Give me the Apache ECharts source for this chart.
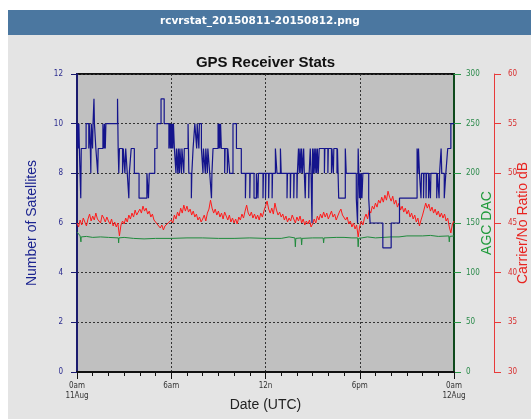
<!DOCTYPE html>
<html>
<head>
<meta charset="utf-8">
<script src="https://cdn.jsdelivr.net/npm/echarts@6/dist/echarts.min.js"></script>
<style>
html,body{margin:0;padding:0;background:#fff;}
#main{width:531px;height:419px;}
</style>
</head>
<body>
<div id="main"></div>
<script>
// x tick labels (hours since 0am 11Aug)
var hourTicks = [0, 6, 12, 18, 24];
var hourLabels = ['0am\n11Aug', '6am', '12n', '6pm', '0am\n12Aug'];

// number of satellites, [hour, count] step changes
var satSteps = [
    [0,10],[0.03,9],[0.06,10],[0.09,9],[0.12,10],[0.15,9],[0.24,7],[0.27,9],[0.58,10],[0.75,9],[0.78,10],
    [0.85,9],[0.88,8],[0.91,10],[0.99,9],[1.02,10],[1.08,11],[1.11,10],[1.2,9],[1.32,8],[1.35,9],[1.65,10],
    [1.72,9],[1.75,10],[1.8,9],[1.84,10],[2.58,11],[2.62,9],[2.66,8],[2.7,9],[2.9,8],[2.95,9],[3.05,8],
    [3.1,9],[3.2,8],[3.3,7],[3.33,8],[3.45,9],[3.65,8],[3.95,7],[4.45,8],[4.55,7],[4.6,8],[4.95,9],
    [5.1,10],[5.35,11],[5.55,10],[5.85,9],[5.9,10],[5.94,9],[5.98,10],[6.02,9],[6.06,10],[6.1,9],
    [6.14,10],[6.2,9],[6.3,8],[6.33,9],[6.42,8],[6.45,9],[6.52,8],[6.55,9],[6.65,8],[6.68,9],[6.8,8],
    [6.83,9],[7.07,10],[7.12,8],[7.28,7],[7.31,8],[7.39,9],[7.5,10],[7.62,9],[7.65,10],[7.76,9],[7.79,10],
    [7.92,9],[8.02,8],[8.05,9],[8.17,8],[8.2,9],[8.3,8],[8.33,9],[8.45,8],[8.56,7],[8.59,8],[8.66,9],
    [8.98,10],[9.02,9],[9.06,10],[9.1,9],[9.14,10],[9.19,9],[9.4,8],[9.43,9],[9.57,8],[9.6,9],[9.72,8],
    [9.93,10],[10.15,9],[10.46,8],[10.72,7],[10.75,8],[11.0,7],[11.03,8],[11.27,7],[11.42,8],[11.52,7],
    [11.55,8],[11.84,7],[11.87,8],[12.0,7],[12.03,8],[12.2,7],[12.23,8],[12.42,7],[12.45,8],[12.63,9],
    [12.73,8],[12.95,9],[13.0,8],[13.37,7],[13.4,8],[13.58,7],[13.61,8],[13.8,7],[13.83,8],[14.0,7],
    [14.03,8],[14.1,9],[14.15,8],[14.2,9],[14.25,8],[14.3,9],[14.35,8],[14.43,9],[14.47,8],[14.53,7],
    [14.56,8],[14.75,7],[14.78,8],[14.85,9],[14.9,8],[14.96,6],[15.0,9],[15.06,8],[15.1,9],[15.16,8],
    [15.2,9],[15.26,8],[15.3,9],[15.36,8],[15.42,9],[15.75,8],[15.78,9],[15.97,8],[16.0,9],[16.2,8],
    [16.23,9],[16.32,8],[16.35,9],[16.55,8],[16.58,9],[16.66,7],[17.08,9],[17.14,8],[17.78,7],[17.86,6],
    [17.9,9],[17.94,8],[17.98,7],[18.02,8],[18.06,7],[18.1,8],[18.14,7],[18.2,8],[18.57,7],[18.66,6],
    [19.47,5],[20.0,6],[20.53,7],[21.65,9],[21.7,8],[21.74,9],[21.8,8],[21.9,7],[21.93,8],[22.06,7],
    [22.09,8],[22.22,7],[22.25,8],[22.38,7],[22.41,8],[22.5,7],[22.53,8],[22.9,7],[22.94,8],[23.05,7],
    [23.08,8],[23.18,9],[23.22,8],[23.38,7],[23.48,8],[23.6,9],[23.8,10],[24,10]
];

// carrier / noise ratio dB, one reading every 0.1 h
var cnrStep = 0.1;
var cnrValues = [
    45.0,44.6,45.3,44.8,45.5,45.1,44.7,45.4,45.9,45.2,
    45.7,45.3,46.0,45.4,45.6,45.0,45.8,45.5,45.1,45.6,
    45.2,44.9,45.4,44.7,45.1,44.6,45.0,43.7,44.8,45.2,
    44.9,45.5,45.1,45.8,45.4,46.0,45.6,46.3,45.8,46.1,
    46.4,46.0,46.7,46.2,46.5,45.9,46.2,45.6,45.9,45.3,
    45.5,44.9,45.1,44.5,44.8,44.3,44.7,44.5,45.0,44.8,
    45.3,45.0,45.8,45.4,46.1,45.7,46.5,46.0,46.8,46.2,
    46.7,46.1,46.4,45.8,46.2,45.6,45.9,45.3,45.6,45.1,
    45.4,45.8,45.2,46.0,46.4,47.3,46.5,46.0,46.4,45.8,
    46.2,45.6,46.0,45.4,46.1,45.7,45.3,45.8,45.1,45.5,
    45.0,45.4,44.9,45.6,45.3,45.9,45.5,46.2,46.8,46.0,
    45.7,46.1,45.5,45.9,45.4,45.8,45.3,46.0,45.6,46.2,
    46.7,47.2,46.4,46.0,46.5,45.9,47.0,46.3,45.8,46.1,
    45.6,45.9,45.3,45.7,45.1,45.5,45.2,45.8,45.4,45.0,
    45.6,45.2,45.7,45.0,45.4,44.8,45.2,44.9,45.3,44.6,
    44.9,45.4,45.0,45.7,45.3,45.9,45.5,46.1,45.6,46.0,
    45.4,45.8,46.2,45.6,45.9,45.3,45.7,46.1,46.4,45.8,
    46.0,45.3,45.6,44.9,45.2,44.6,45.0,44.4,44.8,43.6,
    44.7,45.2,44.8,45.5,45.9,45.4,46.3,46.0,46.7,46.4,
    47.0,46.6,47.3,47.0,47.6,47.1,47.8,47.3,48.2,47.6,
    47.2,47.7,46.9,47.3,46.6,47.0,46.3,46.7,46.1,46.5,
    45.9,46.3,45.6,46.0,45.4,45.8,45.1,45.5,44.7,45.3,
    45.8,46.4,47.0,46.5,46.9,46.2,46.6,46.0,46.4,45.8,
    46.2,45.6,46.0,45.5,45.9,45.2,45.5,44.6,44.0,44.9,
    45.2
];

// AGC DAC, [hour, value]
var agcPoints = [
    [0,141],[0.1,139],[0.2,137],[0.23,137],[0.25,131],[0.27,136],[0.6,136.5],[1,135.5],[1.5,136],[2,135.5],
    [2.63,135],[2.65,130],[2.67,135],[3,135.5],[3.6,134.5],[4.27,134],[4.3,132],[4.33,134.5],[5,134.5],[6,134.5],
    [7,135],[8,135],[9,134.5],[10,134.5],[11,135],[12,134.5],[13,134.5],[13.5,136],[13.87,135],[13.9,126],
    [13.93,134.5],[14.27,135],[14.3,128],[14.33,134.5],[15,135],[15.67,135],[15.7,130],[15.73,135],[16.5,135.5],
    [17,135.5],[17.5,135],[17.87,135],[17.9,126],[17.93,134.5],[18.5,136],[19,135],[20,136],[20.5,136],[21,137],
    [22,137],[22.5,137.5],[23,136.5],[23.67,137],[23.7,131],[23.73,136.5],[24,137]
];

var cnrData = cnrValues.map(function(v, i){
    return [+(i * cnrStep).toFixed(2), v];
});

var myChart = echarts.init(document.getElementById('main'));
var smallFont = 'DejaVu Sans Condensed, Liberation Sans Narrow, sans-serif';
var nameFont = 'Liberation Sans, Arial, sans-serif';
var dotted = {show: true, lineStyle: {color: '#333', type: [2, 2], width: 1}};

option = {
    animation: false,
    backgroundColor: '#ffffff',
    graphic: [
        {type: 'rect', shape: {x: 8, y: 35, width: 523, height: 384}, style: {fill: '#e4e4e4'}, z: -10},
        {type: 'rect', shape: {x: 8, y: 10, width: 523, height: 25}, style: {fill: '#4b77a0'}, z: -10},
        {type: 'text', left: 160, top: 16, z: 10,
            style: {text: 'rcvrstat_20150811-20150812.png', fill: '#fff', font: 'bold 10.5px DejaVu Sans, sans-serif'}}
    ],
    title: {
        text: 'GPS Receiver Stats',
        left: 'center',
        top: 50,
        textStyle: {fontSize: 15, fontWeight: 'bold', color: '#111', fontFamily: nameFont}
    },
    grid: {
        left: 77, right: 77, top: 74, bottom: 47,
        outerBoundsMode: 'none', containLabel: false,
        show: true, backgroundColor: '#c0c0c0', borderColor: '#111', borderWidth: 2
    },
    xAxis: {
        type: 'value', min: 0, max: 24, interval: 6,
        name: 'Date (UTC)', nameLocation: 'middle', nameGap: 26, nameMoveOverlap: false,
        nameTextStyle: {fontSize: 14, color: '#222', fontFamily: nameFont},
        axisLine: {lineStyle: {color: '#111', width: 2}},
        axisTick: {length: 7, lineStyle: {color: '#111'}},
        minorTick: {show: true, splitNumber: 6, length: 4, lineStyle: {color: '#111'}},
        splitLine: dotted,
        axisLabel: {
            margin: 9, fontSize: 8, color: '#333', fontFamily: smallFont, lineHeight: 10,
            formatter: function(v){
                var i = hourTicks.indexOf(v);
                return i >= 0 ? hourLabels[i] : '';
            }
        }
    },
    yAxis: [
        {
            type: 'value', min: 0, max: 12, interval: 2, position: 'left',
            name: 'Number of Satellites', nameLocation: 'middle', nameGap: 38, nameMoveOverlap: false,
            nameTextStyle: {fontSize: 14, color: '#1c2590', fontFamily: nameFont},
            axisLine: {show: true, lineStyle: {color: '#1a1a6e', width: 2}},
            axisTick: {show: true, length: 6, lineStyle: {color: '#1a1a6e'}},
            splitLine: dotted,
            axisLabel: {margin: 14, fontSize: 8, color: '#2b2b8f', fontFamily: smallFont}
        },
        {
            type: 'value', min: 0, max: 300, interval: 50, position: 'right',
            name: 'AGC DAC', nameLocation: 'middle', nameGap: 26, nameMoveOverlap: false,
            nameTextStyle: {fontSize: 14, color: '#1e9a3a', fontFamily: nameFont},
            axisLine: {show: true, lineStyle: {color: '#0f4a1c', width: 2}},
            axisTick: {show: true, length: 7, lineStyle: {color: '#2a9a48'}},
            splitLine: {show: false},
            axisLabel: {margin: 12, fontSize: 8, color: '#2a8a4a', fontFamily: smallFont}
        },
        {
            type: 'value', min: 30, max: 60, interval: 5, position: 'right', offset: 40,
            name: 'Carrier/No Ratio dB', nameLocation: 'middle', nameGap: 22, nameMoveOverlap: false,
            nameTextStyle: {fontSize: 14, color: '#e8231f', fontFamily: nameFont},
            axisLine: {show: true, lineStyle: {color: '#e83a3a', width: 1}},
            axisTick: {show: true, length: 7, lineStyle: {color: '#e83a3a'}},
            splitLine: {show: false},
            axisLabel: {margin: 14, fontSize: 8, color: '#d83030', fontFamily: smallFont}
        }
    ],
    series: [
        {
            name: 'C/No', type: 'line', yAxisIndex: 2, data: cnrData,
            showSymbol: false, lineStyle: {color: '#ff1a1a', width: 1}, z: 2
        },
        {
            name: 'AGC', type: 'line', yAxisIndex: 1, data: agcPoints,
            showSymbol: false, lineStyle: {color: '#1f8a3c', width: 1}, z: 3
        },
        {
            name: 'Satellites', type: 'line', yAxisIndex: 0, data: satSteps, step: 'end',
            showSymbol: false, lineStyle: {color: '#14148c', width: 1.2}, z: 4
        }
    ]
};
myChart.setOption(option);
</script>
</body>
</html>
